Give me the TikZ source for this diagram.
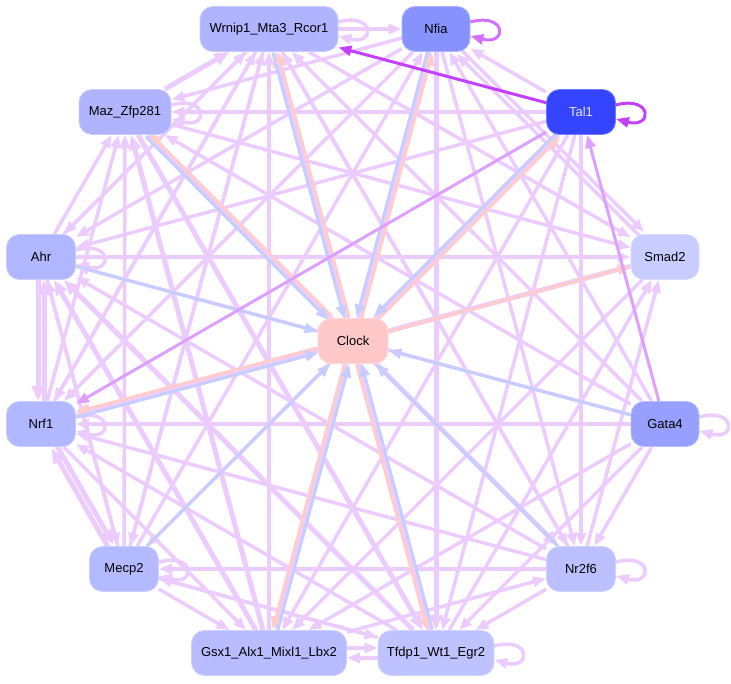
\documentclass[tikz,border=0pt]{standalone}
\usepackage{fontspec}
\setmainfont{Liberation Sans}
\usetikzlibrary{arrows.meta}
\pgfdeclarelayer{bg}
\pgfsetlayers{bg,main}
\definecolor{lav}{RGB}{236,204,255}
\definecolor{midpurple}{RGB}{222,160,255}
\definecolor{nfialoop}{RGB}{212,112,255}
\definecolor{darkpurple}{RGB}{196,64,255}
\definecolor{inblue}{RGB}{200,205,255}
\definecolor{outpink}{RGB}{255,204,204}
\definecolor{wcol}{RGB}{176,180,255}
\definecolor{ncol}{RGB}{136,146,255}
\definecolor{tcol}{RGB}{52,68,255}
\definecolor{mcol}{RGB}{176,180,255}
\definecolor{acol}{RGB}{176,182,255}
\definecolor{scol}{RGB}{200,204,255}
\definecolor{ccol}{RGB}{255,200,200}
\definecolor{rcol}{RGB}{178,184,255}
\definecolor{gcol}{RGB}{152,160,255}
\definecolor{ecol}{RGB}{180,186,255}
\definecolor{fcol}{RGB}{188,192,255}
\definecolor{xcol}{RGB}{184,188,255}
\definecolor{dcol}{RGB}{190,194,255}
\begin{document}
\begin{tikzpicture}
      [x=1pt,y=1pt,
      every node/.style={rounded corners=13pt, minimum height=45pt, minimum width=69pt,
        inner sep=2pt, font=\fontsize{13}{15}\selectfont},
      gene/.style={fill=#1, draw=#1!70!white, line width=0.8pt},
      edge/.style={draw=lav, line width=3.5pt, -{Triangle[length=13pt,width=10pt]}},
      heavy/.style={edge, line width=5pt, -{Triangle[length=15pt,width=12pt]}},
      into/.style={edge, draw=inblue, line width=3pt},
      outof/.style={edge, draw=outpink, line width=3pt},
      ]
      \useasboundingbox (0,0) rectangle (731,683);
      \node[gene=wcol, minimum width=138pt] (w) at (269,654) {Wrnip1\_Mta3\_Rcor1};
      \node[gene=ncol, minimum width=68pt] (n) at (436,654) {Nfia};
      \node[gene=tcol, text={rgb,255:red,225;green,225;blue,255}] (t) at (581,571) {Tal1};
      \node[gene=mcol, minimum width=92pt] (m) at (125,571) {Maz\_Zfp281};
      \node[gene=acol] (a) at (41,426) {Ahr};
      \node[gene=scol, minimum width=68pt] (s) at (665,426) {Smad2};
      \node[gene=ccol, minimum width=70pt] (c) at (353,342) {Clock};
      \node[gene=rcol] (r) at (41,259) {Nrf1};
      \node[gene=gcol, minimum width=68pt] (g) at (665,259) {Gata4};
      \node[gene=ecol] (e) at (124,114) {Mecp2};
      \node[gene=fcol] (f) at (581,114) {Nr2f6};
      \node[gene=xcol, minimum width=155pt] (x) at (269,30) {Gsx1\_Alx1\_Mixl1\_Lbx2};
      \node[gene=dcol, minimum width=116pt] (d) at (436,30) {Tfdp1\_Wt1\_Egr2};
      \begin{pgfonlayer}{bg}
      \foreach \s/\t in {w/n, t/n, w/s, a/w, r/w, e/w, x/w, f/w, g/w, w/a, w/r, w/f, w/e,
        n/m, n/a, n/r, e/n, n/x, n/f, g/n, t/m, t/a, t/e, t/x, t/d, t/f, a/m, r/m, e/m,
        g/m, m/s, a/s, a/e, f/a, e/a, g/a, r/x, d/r, f/r, g/r, e/x, e/d, f/e, d/e, f/d,
        x/f, s/x, g/x, g/d, g/f, f/s, d/s}
        \draw[edge] (\s) -- (\t);
      \foreach \s/\t in {m/w, d/w, n/d, x/m, m/d, m/f, s/r, x/a, d/a}
        \draw[heavy] (\s) -- (\t);
      \foreach \s/\t/\dx/\dy/\sty in {a/r/-3/0/heavy, r/a/3/0/heavy, n/s/2.1/2.1/edge,
        s/n/-2.1/-2.1/edge, r/e/2.6/1.5/heavy, e/r/-2.6/-1.5/heavy, x/d/0/5/edge, d/x/0/-5/edge}
        \draw[\sty, transform canvas={shift={(\dx,\dy)}}] (\s) -- (\t);
      \foreach \v in {w,m,a,r,g,f,e,d}
        \draw[edge] ([yshift=7pt]\v.east) to[out=15,in=-15,looseness=7] ([yshift=-7pt]\v.east);
      \foreach \p/\dx/\dy in {w/2.4/0.65, n/2.4/-0.64, t/1.77/-1.76, m/1.77/1.76,
        r/-0.64/2.4, x/-2.4/0.65, d/-2.4/-0.64} {
        \draw[outof, transform canvas={shift={(\dx,\dy)}}] (c) -- (\p);
        \draw[into, transform canvas={shift={({-(\dx)},{-(\dy)})}}] (\p) -- (c);
      }
      \foreach \p in {a,g,f,e}
        \draw[into] (\p) -- (c);
      \draw[outof] (c) -- (s);
      \draw[edge, draw=midpurple, line width=3pt] (t) -- (r);
      \draw[edge, draw=midpurple, line width=3pt] (g) -- (t);
      \draw[edge, draw=darkpurple, line width=3pt] (t) -- (w);
      \draw[edge, draw=nfialoop, line width=3pt] ([yshift=7pt]n.east) to[out=15,in=-15,looseness=7] ([yshift=-7pt]n.east);
      \draw[edge, draw=darkpurple, line width=3pt] ([yshift=7pt]t.east) to[out=15,in=-15,looseness=7] ([yshift=-7pt]t.east);
      \end{pgfonlayer}
      \end{tikzpicture}
\end{document}
